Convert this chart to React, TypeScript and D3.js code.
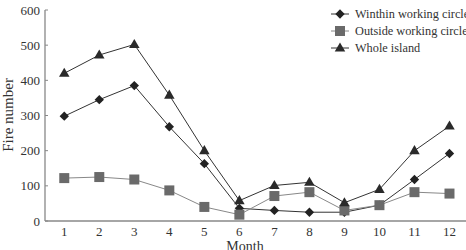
import React from "react";
import * as d3 from "d3";

const months = [1, 2, 3, 4, 5, 6, 7, 8, 9, 10, 11, 12];
const withinCircle = [298, 345, 385, 268, 163, 36, 30, 25, 25, 45, 118, 192];
const outsideCircle = [122, 125, 118, 87, 40, 18, 71, 82, 30, 45, 82, 78];
const wholeIsland = [420, 472, 502, 358, 200, 58, 101, 110, 52, 90, 200, 270];
const yTicks = [0, 100, 200, 300, 400, 500, 600];
const seriesNames = ["Winthin working circle", "Outside working circle", "Whole island"];

const W = 466;
const H = 250;
const FONT = "'Liberation Serif', 'Times New Roman', serif";

function Marker({ kind, x, y }: { kind: string; x: number; y: number }) {
  if (kind === "diamond") {
    // square turned 45deg, not d3's tall diamond
    return (
      <rect
        x={-3.3}
        y={-3.3}
        width={6.6}
        height={6.6}
        transform={`translate(${x},${y}) rotate(45)`}
        fill="#222"
      />
    );
  }
  if (kind === "square") {
    return <rect x={x - 5} y={y - 5} width={10} height={10} fill="#6a6a6a" />;
  }
  const t = d3.symbol().type(d3.symbolTriangle).size(48)();
  return <path d={t as string} transform={`translate(${x},${y + 0.5})`} fill="#2a2a2a" />;
}

export default function App() {
  const x = d3.scaleLinear().domain([0.45, 12.5]).range([45, 467]);
  const y = d3.scaleLinear().domain([0, 600]).range([221, 10]);

  const line = d3
    .line<number>()
    .x((_, i) => x(months[i]))
    .y((d) => y(d));

  const series = [
    { name: seriesNames[0], values: withinCircle, kind: "diamond", stroke: "#333" },
    { name: seriesNames[1], values: outsideCircle, kind: "square", stroke: "#888" },
    { name: seriesNames[2], values: wholeIsland, kind: "triangle", stroke: "#333" },
  ];

  return (
    <svg
      width={W}
      height={H}
      style={{ position: "absolute", left: 0, top: 0, background: "#fff" }}
      fontFamily={FONT}
    >
      {/* axes */}
      <line x1={45} x2={466} y1={221} y2={221} stroke="#888" strokeWidth={1.3} />
      <line x1={45} x2={45} y1={10} y2={221} stroke="#888" strokeWidth={1.3} />
      {yTicks.map((t) => (
        <g key={t}>
          <line x1={45} x2={48} y1={y(t)} y2={y(t)} stroke="#888" />
          <text x={40} y={y(t)} dy="0.35em" textAnchor="end" fontSize={13} fill="#333">
            {t}
          </text>
        </g>
      ))}
      {months.map((m) => (
        <text key={m} x={x(m)} y={236} textAnchor="middle" fontSize={13} fill="#333">
          {m}
        </text>
      ))}
      <text
        transform={`translate(13,115) rotate(-90)`}
        textAnchor="middle"
        fontSize={15}
        fill="#333"
      >
        Fire number
      </text>
      <text x={245} y={251} textAnchor="middle" fontSize={14} fill="#333">
        Month
      </text>

      {/* series */}
      {series.map((s) => (
        <g key={s.name}>
          <path d={line(s.values) as string} fill="none" stroke={s.stroke} strokeWidth={1} />
          {s.values.map((v, i) => (
            <Marker key={i} kind={s.kind} x={x(months[i])} y={y(v)} />
          ))}
        </g>
      ))}

      {/* legend */}
      {series.map((s, i) => {
        const ly = 14 + i * 17;
        return (
          <g key={s.name}>
            <line x1={331} x2={349} y1={ly} y2={ly} stroke={s.stroke} />
            <Marker kind={s.kind} x={340} y={ly} />
            <text x={355} y={ly} dy="0.35em" fontSize={12.3} fill="#333">
              {s.name}
            </text>
          </g>
        );
      })}
    </svg>
  );
}
